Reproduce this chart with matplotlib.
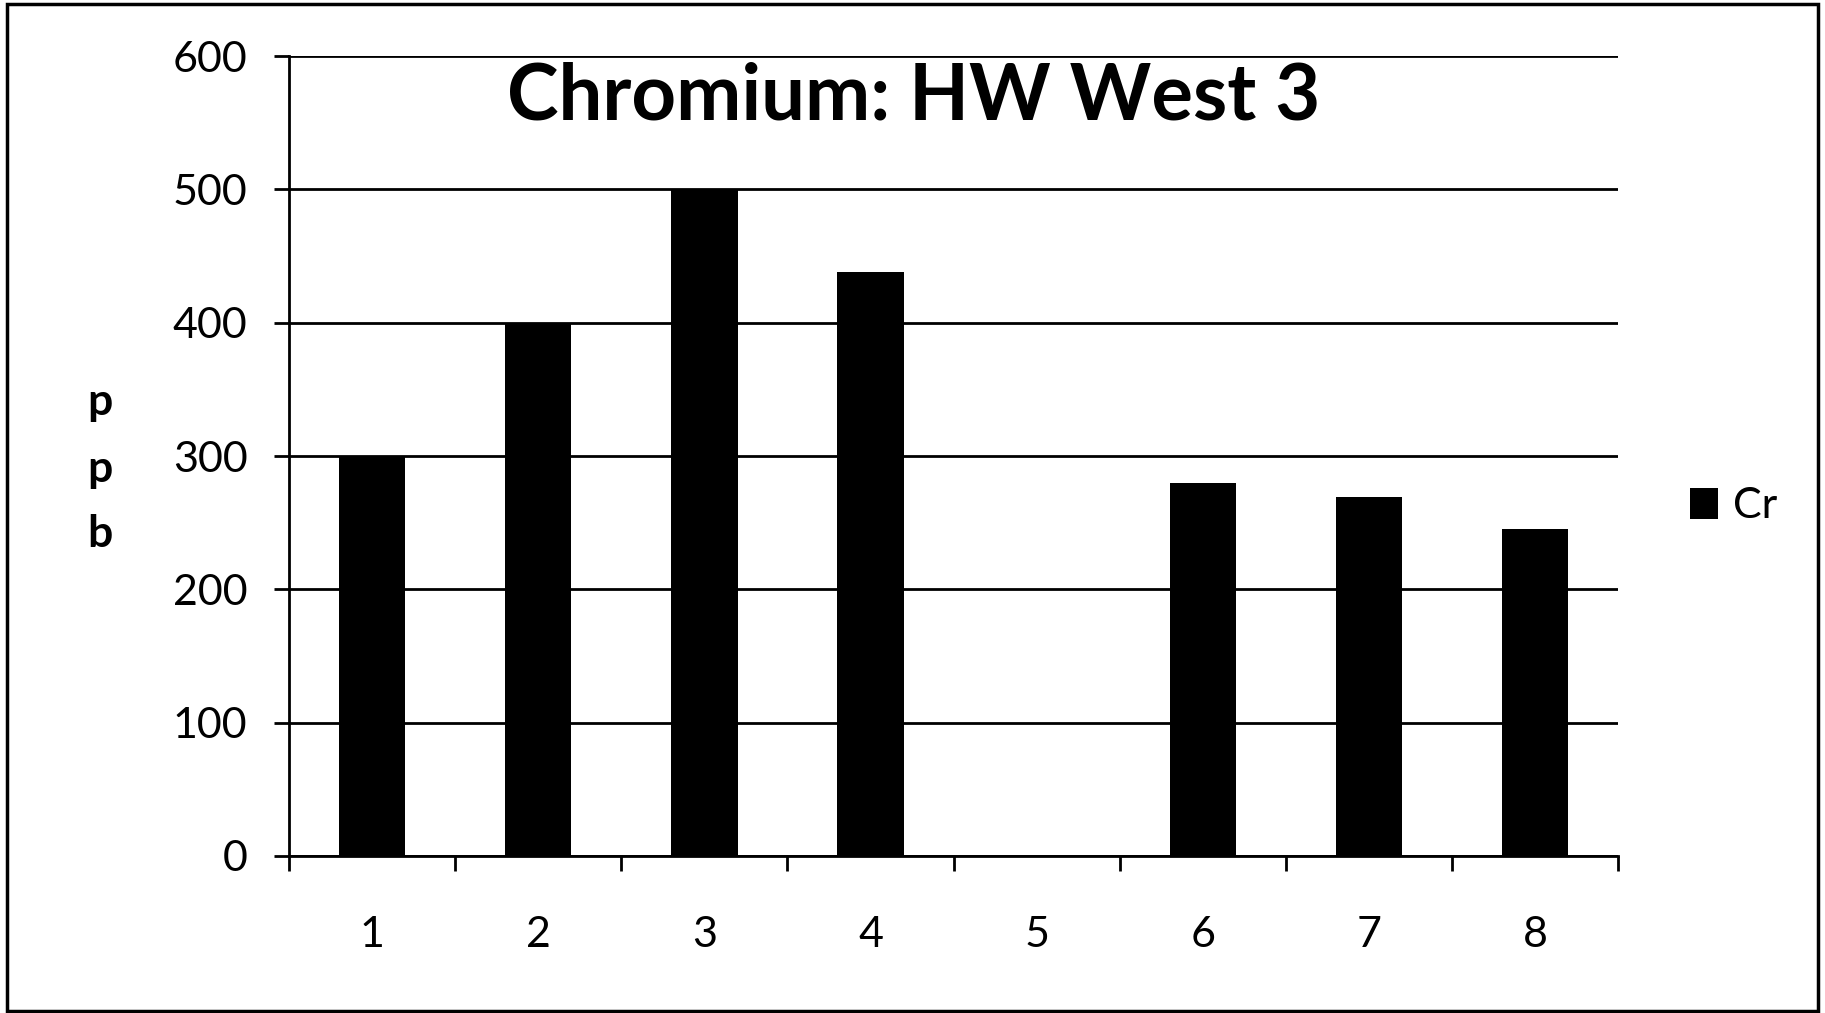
import matplotlib.pyplot as plt
from matplotlib.patches import Rectangle

# sample positions and chromium values (ppb)
samples = ['1', '2', '3', '4', '5', '6', '7', '8']
cr_ppb = [300, 400, 500, 438, 0, 280, 269, 245]
yticks = [0, 100, 200, 300, 400, 500, 600]

plt.rcParams['font.family'] = ['Lato', 'DejaVu Sans']

fig = plt.figure(figsize=(18.25, 10.13), dpi=100)
ax = fig.add_axes([0.1584, 0.155, 0.7282, 0.7897])

x = range(len(samples))
ax.bar(x, cr_ppb, width=0.4, color='black', zorder=3, label='Cr')

ax.set_xlim(-0.5, len(samples) - 0.5)
ax.set_ylim(0, 600)
ax.set_yticks(yticks)
ax.set_xticks(list(x))
ax.set_xticklabels(samples)
# ticks between categories
ax.set_xticks([i - 0.5 for i in range(len(samples) + 1)], minor=True)
ax.tick_params(axis='x', which='major', length=0, pad=43, labelsize=31)
ax.tick_params(axis='x', which='minor', length=11, width=2, direction='out')
ax.tick_params(axis='y', length=11, width=2, direction='out', pad=19, labelsize=31)

ax.grid(axis='y', color='black', linewidth=2, zorder=0)
ax.set_axisbelow(True)
for s in ['top', 'right']:
    ax.spines[s].set_visible(False)
ax.spines['left'].set_linewidth(2)
ax.spines['bottom'].set_linewidth(2)

ax.text(0.47, 0.948, 'Chromium: HW West 3', transform=ax.transAxes,
        ha='center', va='center', fontsize=56, fontweight='bold')

# stacked axis label
for letter, yy in zip('ppb', [0.603, 0.537, 0.473]):
    fig.text(0.055, yy, letter, ha='center', va='center', fontsize=32, fontweight='bold')

leg = fig.legend(loc='center left', bbox_to_anchor=(0.905, 0.5), frameon=False,
                 fontsize=31, handlelength=0.65, handleheight=0.7, handletextpad=0.35)

# outer border
fig.patches.append(Rectangle((0.004, 0.002), 0.992, 0.994, transform=fig.transFigure,
                             fill=False, edgecolor='black', linewidth=2.5))

plt.savefig('out.png', dpi=100)
